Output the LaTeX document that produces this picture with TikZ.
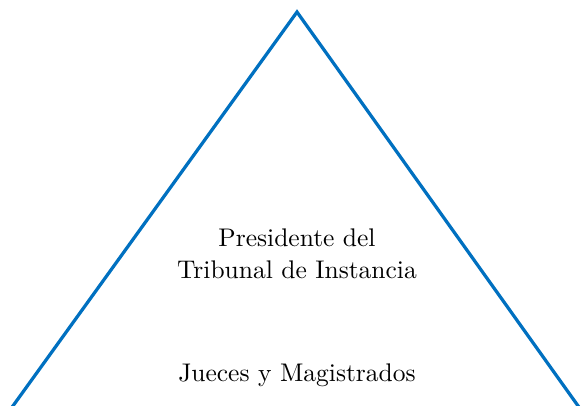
\documentclass[tikz,border=0pt]{standalone}
\definecolor{triblue}{RGB}{0,112,192}
\begin{document}
\begin{tikzpicture}[x=0.4pt,y=-0.4pt,
  tri/.style={draw=triblue,line width=1.3pt},
  lbl/.style={align=center,font=\fontsize{10.2}{12.8}\selectfont,inner sep=0pt}]
\useasboundingbox (0,0) rectangle (581,406);
\begin{scope}
\clip (0,0) rectangle (581,406);
\coordinate (L) at (10,410);
\coordinate (A) at (297,12);
\coordinate (R) at (581,410);
\draw[tri,line join=miter] (L) -- (A) -- (R);
\end{scope}
\node[lbl] (pres) at (297,254) {Presidente del\\Tribunal de Instancia};
\node[lbl] (jue) at (297,375) {Jueces y Magistrados};
\end{tikzpicture}
\end{document}
